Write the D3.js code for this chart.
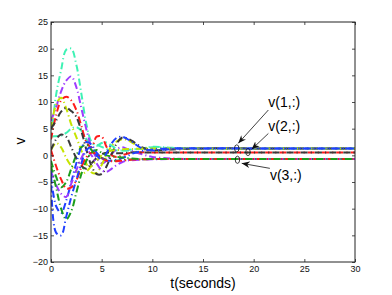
<!DOCTYPE html>
<html>
<head>
<meta charset="utf-8">
<script src="https://cdn.jsdelivr.net/npm/d3@7"></script>
<style>
  body { margin: 0; background: #fff; }
  text { font-family: "Liberation Sans", Arial, sans-serif; }
</style>
</head>
<body>
<svg id="chart" width="392" height="295"></svg>
<script>
// time knots shared by every series (seconds)
const tKnots = [0, 0.5, 1, 1.5, 2, 2.5, 3, 3.5, 4, 4.5, 5, 5.5, 6, 6.5, 7, 7.5, 8, 9, 10, 12, 15, 20, 25, 30];

// values, one array per trace
const cyanA   = [3, 11.3, 16, 19.8, 20, 17, 11.5, 5.8, 2.5, 1.8, 2.3, 2.4, 1.8, 1.2, 0.9, 0.9, 1.0, 1.3, 1.5, 1.35, 1.3, 1.3, 1.3, 1.3];
const cyanB   = [3.5, 3.6, 3.7, 4.2, 5, 5.3, 4.6, 3, 2.2, 2, 1.6, 1.2, 1, 0.9, 0.9, 1, 1.1, 1.3, 1.6, 1.4, 1.3, 1.3, 1.3, 1.3];
const purpleA = [6.5, 9, 12, 14, 14.8, 12.8, 8.8, 4.8, 1.5, -0.5, -1.5, -1, 0.3, 1.2, 1.5, 1.2, 0.8, 0.2, -0.3, -0.6, -0.7, -0.7, -0.7, -0.7];
const purpleB = [-3, -5.5, -7.2, -7.8, -5.3, -2.8, -0.5, 1, 0, -1.5, -2.8, -3.1, -2.5, -1.8, -1.3, -1, -0.9, -0.8, -0.75, -0.7, -0.7, -0.7, -0.7, -0.7];
const redA    = [3, 7.5, 10.3, 11, 10.3, 8.5, 5.5, 2.5, 1.5, 3.5, 3.5, 1.5, 0, -0.3, 0, 0.3, 0.5, 0.6, 0.55, 0.55, 0.55, 0.55, 0.55, 0.55];
const redB    = [1, -2, -4.5, -6.2, -6, -4.7, -2.2, -0.3, 0.5, 0.2, -0.5, -1, -1.1, -1.1, -1, -0.9, -0.8, -0.75, -0.7, -0.7, -0.7, -0.7, -0.7, -0.7];
const yellowA = [5, 9.5, 10.8, 8.8, 5.8, 3.4, 0.9, -1.6, -3.2, -3.3, -1.8, 0.2, 1.8, 2.6, 3, 2.9, 2.4, 1.3, 0.9, 1.2, 1.3, 1.3, 1.3, 1.3];
const yellowB = [1, 2.3, 1.5, -0.5, -2, -3, -3.5, -3, -2, -1, 0, 0.6, 0.9, 1, 1.1, 1.2, 1.2, 1.3, 1.3, 1.3, 1.3, 1.3, 1.3, 1.3];
const grayA   = [5, 6.5, 8.2, 8.9, 8.3, 7.2, 4.5, 1, -2, -3.5, -3.5, -2, 0.3, 2.3, 3.3, 3.2, 2.7, 1.5, 1, 1.1, 1.3, 1.3, 1.3, 1.3];
const grayB   = [1, 3, 3.9, 3.5, 1.5, -0.5, -2, -2.5, -1.5, -0.5, 0.2, 0.5, 0.5, 0.4, 0.4, 0.5, 0.55, 0.55, 0.55, 0.55, 0.55, 0.55, 0.55, 0.55];
const blueA   = [-3, -14.5, -15, -11.5, -7.8, -4.6, -1.5, 1, 1.5, 0, -0.8, 0.5, 2.3, 3.3, 3.5, 3.1, 2.5, 1.3, 0.9, 1.2, 1.3, 1.3, 1.3, 1.3];
const blueB   = [-4, -9.5, -10.8, -8.5, -5, -1.5, 1.5, 2.5, 2, 0.5, -0.5, -1, -1, -0.8, -0.5, -0.2, 0.3, 0.8, 1.1, 1.3, 1.3, 1.3, 1.3, 1.3];
const greenA  = [-2, -6, -10, -12, -10.5, -7, -3.5, -1, 0.5, 1, 0.5, 0, -0.2, -0.3, -0.4, -0.5, -0.6, -0.7, -0.7, -0.7, -0.7, -0.7, -0.7, -0.7];
const greenB  = [-1, -4, -6, -5, -2.5, 0, 1.5, 2, 1, 0, -0.5, -0.8, -1, -1, -0.9, -0.8, -0.8, -0.75, -0.7, -0.7, -0.7, -0.7, -0.7, -0.7];

const xTicks = [0, 5, 10, 15, 20, 25, 30];
const yTicks = [-20, -15, -10, -5, 0, 5, 10, 15, 20, 25];

// annotations (data coordinates)
const noteLabels = ["v(1,:)", "v(2,:)", "v(3,:)"];
const noteTextT  = [21.45, 21.45, 21.6];
const noteTextV  = [9.06, 4.56, -4.63];
const noteTailT  = [21.45, 21.45, 21.6];
const noteTailV  = [8.5, 4.1, -2.44];
const noteHeadT  = [18.48, 19.8, 18.82];
const noteHeadV  = [2.25, 1.12, -1.5];
const ringT      = [18.33, 19.44, 18.4];
const ringV      = [1.3, 0.62, -0.83];

const series = [
  { v: cyanA,   c: "#3ef2b4" },
  { v: cyanB,   c: "#3ef2b4" },
  { v: purpleA, c: "#9e3cff" },
  { v: redA,    c: "#ff1a1a" },
  { v: yellowA, c: "#c6e400" },
  { v: grayA,   c: "#3a3a3a" },
  { v: greenB,  c: "#1c9e1c" },
  { v: yellowB, c: "#c6e400" },
  { v: grayB,   c: "#3a3a3a" },
  { v: blueB,   c: "#2040ff" },
  { v: purpleB, c: "#9e3cff" },
  { v: redB,    c: "#ff1a1a" },
  { v: greenA,  c: "#1c9e1c" },
  { v: blueA,   c: "#2040ff" }
];

const svg = d3.select("#chart");
const pLeft = 51, pRight = 355, pTop = 22, pBottom = 262;

const x = d3.scaleLinear().domain([0, 30]).range([pLeft, pRight]);
const y = d3.scaleLinear().domain([-20, 25]).range([pBottom, pTop]);

svg.append("clipPath").attr("id", "plotclip")
  .append("rect").attr("x", pLeft).attr("y", pTop)
  .attr("width", pRight - pLeft).attr("height", pBottom - pTop);

const line = d3.line()
  .x((d, i) => x(tKnots[i]))
  .y(d => y(d))
  .curve(d3.curveCatmullRom.alpha(0.5));

svg.append("g").attr("clip-path", "url(#plotclip)")
  .selectAll("path")
  .data(series)
  .enter().append("path")
    .attr("d", d => line(d.v))
    .attr("fill", "none")
    .attr("stroke", d => d.c)
    .attr("stroke-width", 2)
    .attr("stroke-dasharray", "7,3,1.2,3");

// axes, ticks pointing inward, mirrored on top/right
const tk = 3;
svg.append("g").attr("transform", `translate(0,${pBottom})`)
  .call(d3.axisBottom(x).tickValues(xTicks).tickSize(-tk).tickPadding(4))
  .call(g => g.select(".domain").remove());
svg.append("g").attr("transform", `translate(0,${pTop})`)
  .call(d3.axisTop(x).tickValues(xTicks).tickSize(-tk).tickFormat(""))
  .call(g => g.select(".domain").remove());
svg.append("g").attr("transform", `translate(${pLeft},0)`)
  .call(d3.axisLeft(y).tickValues(yTicks).tickSize(-tk).tickPadding(3).tickFormat(d => d < 0 ? "\u2212" + Math.abs(d) : d))
  .call(g => g.select(".domain").remove());
svg.append("g").attr("transform", `translate(${pRight},0)`)
  .call(d3.axisRight(y).tickValues(yTicks).tickSize(-tk).tickFormat(""))
  .call(g => g.select(".domain").remove());

svg.selectAll(".tick line").attr("stroke", "#222").attr("stroke-width", 0.8);
svg.selectAll(".tick text").attr("font-size", 9).attr("fill", "#111")
  .style("font-family", "'Liberation Sans', Arial, sans-serif");

svg.append("rect")
  .attr("x", pLeft).attr("y", pTop)
  .attr("width", pRight - pLeft).attr("height", pBottom - pTop)
  .attr("fill", "none").attr("stroke", "#222").attr("stroke-width", 1);

// labels
svg.append("text")
  .attr("x", (pLeft + pRight) / 2).attr("y", 288)
  .attr("text-anchor", "middle").attr("font-size", 14)
  .text("t(seconds)");
svg.append("text")
  .attr("transform", "translate(25,141) rotate(-90)")
  .attr("text-anchor", "middle").attr("font-size", 14)
  .text("v");

// annotations
svg.append("defs").append("marker")
  .attr("id", "arrowhead")
  .attr("viewBox", "0 0 10 10")
  .attr("refX", 10).attr("refY", 5)
  .attr("markerWidth", 8).attr("markerHeight", 8)
  .attr("markerUnits", "userSpaceOnUse")
  .attr("orient", "auto")
  .append("path").attr("d", "M0,1 L10,5 L0,9 L3,5 Z").attr("fill", "#111");

const notes = svg.append("g");
noteLabels.forEach((lab, i) => {
  notes.append("line")
    .attr("x1", x(noteTailT[i])).attr("y1", y(noteTailV[i]))
    .attr("x2", x(noteHeadT[i])).attr("y2", y(noteHeadV[i]))
    .attr("stroke", "#111").attr("stroke-width", 0.8)
    .attr("marker-end", "url(#arrowhead)");
  notes.append("ellipse")
    .attr("cx", x(ringT[i])).attr("cy", y(ringV[i]))
    .attr("rx", 2.2).attr("ry", 3.6)
    .attr("fill", "none").attr("stroke", "#111").attr("stroke-width", 0.8);
  notes.append("text")
    .attr("x", x(noteTextT[i])).attr("y", y(noteTextV[i]))
    .attr("font-size", 14)
    .text(lab);
});
</script>
</body>
</html>
